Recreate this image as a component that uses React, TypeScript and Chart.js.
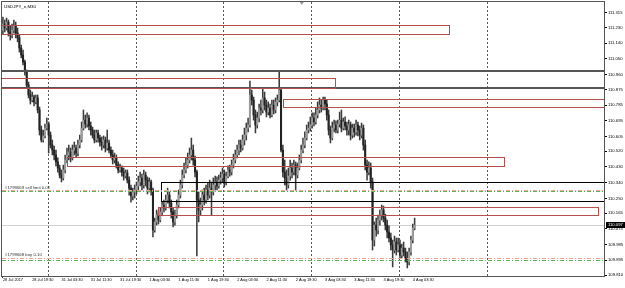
import React, { useEffect, useRef } from 'react';
import { Chart, registerables } from 'chart.js';

Chart.register(...registerables);

// ---- candle data (USDJPY_e, M30), one entry per bar ----
const opens = [
  111.215, 111.250, 111.227, 111.261, 111.204, 111.187, 111.215, 111.238, 111.198, 111.170,
  111.112, 111.072, 111.032, 110.975, 110.900, 110.843, 110.814, 110.831, 110.803, 110.826,
  110.757, 110.642, 110.585, 110.608, 110.653, 110.676, 110.613, 110.556, 110.527, 110.499,
  110.459, 110.424, 110.384, 110.367, 110.413, 110.470, 110.499, 110.516, 110.482, 110.527,
  110.539, 110.510, 110.556, 110.585, 110.653, 110.699, 110.676, 110.711, 110.665, 110.642,
  110.613, 110.585, 110.625, 110.596, 110.573, 110.556, 110.585, 110.539, 110.568, 110.527,
  110.499, 110.470, 110.482, 110.441, 110.413, 110.424, 110.401, 110.378, 110.396, 110.355,
  110.309, 110.264, 110.287, 110.298, 110.321, 110.344, 110.367, 110.327, 110.384, 110.355,
  110.309, 110.344, 110.298, 110.069, 110.115, 110.155, 110.126, 110.172, 110.212, 110.195,
  110.241, 110.269, 110.223, 110.172, 110.115, 110.155, 110.212, 110.269, 110.327, 110.384,
  110.413, 110.441, 110.470, 110.499, 110.527, 110.470, 110.401, 110.241, 110.183, 110.212,
  110.269, 110.241, 110.298, 110.269, 110.309, 110.287, 110.327, 110.344, 110.321, 110.355,
  110.367, 110.390, 110.344, 110.378, 110.413, 110.401, 110.441, 110.470, 110.499, 110.527,
  110.556, 110.539, 110.585, 110.613, 110.653, 110.671, 110.843, 110.814, 110.728, 110.671,
  110.711, 110.768, 110.757, 110.826, 110.785, 110.745, 110.768, 110.728, 110.785, 110.757,
  110.803, 110.814, 110.871, 110.527, 110.401, 110.367, 110.327, 110.378, 110.424, 110.401,
  110.441, 110.384, 110.424, 110.470, 110.527, 110.556, 110.596, 110.642, 110.653, 110.671,
  110.711, 110.688, 110.728, 110.757, 110.785, 110.768, 110.814, 110.791, 110.728, 110.642,
  110.596, 110.653, 110.671, 110.642, 110.676, 110.699, 110.653, 110.688, 110.665, 110.642,
  110.671, 110.613, 110.653, 110.631, 110.671, 110.642, 110.613, 110.653, 110.556, 110.441,
  110.401, 110.424, 110.344, 110.011, 110.097, 110.069, 110.126, 110.155, 110.183, 110.137,
  110.097, 110.057, 110.023, 109.983, 109.954, 110.000, 109.954, 109.983, 109.925, 109.965,
  109.943, 109.908, 109.885, 109.943, 110.011, 110.080,
];

const highs = [
  111.290, 111.273, 111.284, 111.273, 111.238, 111.250, 111.273, 111.261, 111.227, 111.187,
  111.129, 111.101, 111.043, 110.986, 110.917, 110.871, 110.860, 110.843, 110.843, 110.843,
  110.774, 110.665, 110.642, 110.676, 110.711, 110.688, 110.631, 110.585, 110.550, 110.527,
  110.482, 110.441, 110.413, 110.441, 110.499, 110.539, 110.556, 110.539, 110.556, 110.573,
  110.556, 110.585, 110.613, 110.688, 110.757, 110.728, 110.740, 110.728, 110.688, 110.659,
  110.642, 110.642, 110.642, 110.613, 110.602, 110.608, 110.602, 110.642, 110.585, 110.545,
  110.527, 110.510, 110.499, 110.459, 110.447, 110.436, 110.424, 110.413, 110.413, 110.373,
  110.327, 110.309, 110.327, 110.344, 110.378, 110.401, 110.390, 110.413, 110.401, 110.373,
  110.367, 110.355, 110.309, 110.137, 110.183, 110.172, 110.195, 110.229, 110.241, 110.269,
  110.309, 110.287, 110.241, 110.195, 110.183, 110.241, 110.298, 110.355, 110.413, 110.453,
  110.482, 110.510, 110.539, 110.596, 110.556, 110.493, 110.413, 110.287, 110.252, 110.298,
  110.309, 110.327, 110.338, 110.355, 110.344, 110.367, 110.378, 110.373, 110.384, 110.401,
  110.424, 110.413, 110.401, 110.436, 110.441, 110.470, 110.504, 110.527, 110.556, 110.585,
  110.585, 110.613, 110.653, 110.682, 110.711, 110.923, 110.871, 110.831, 110.757, 110.745,
  110.791, 110.814, 110.883, 110.860, 110.814, 110.803, 110.791, 110.814, 110.814, 110.826,
  110.843, 110.980, 110.883, 110.556, 110.470, 110.413, 110.424, 110.470, 110.453, 110.470,
  110.459, 110.453, 110.499, 110.556, 110.596, 110.631, 110.671, 110.688, 110.717, 110.740,
  110.740, 110.768, 110.803, 110.826, 110.814, 110.831, 110.831, 110.814, 110.757, 110.665,
  110.688, 110.699, 110.694, 110.699, 110.745, 110.757, 110.711, 110.717, 110.688, 110.699,
  110.688, 110.676, 110.676, 110.699, 110.688, 110.665, 110.682, 110.671, 110.585, 110.470,
  110.459, 110.453, 110.367, 110.115, 110.137, 110.155, 110.183, 110.212, 110.206, 110.160,
  110.126, 110.092, 110.051, 110.011, 110.034, 110.023, 110.023, 110.011, 109.988, 110.000,
  109.965, 109.943, 109.965, 110.034, 110.103, 110.137,
];

const lows = [
  111.192, 111.204, 111.215, 111.181, 111.158, 111.170, 111.198, 111.170, 111.147, 111.089,
  111.055, 111.015, 110.957, 110.883, 110.826, 110.791, 110.803, 110.780, 110.791, 110.740,
  110.613, 110.573, 110.573, 110.596, 110.642, 110.510, 110.539, 110.499, 110.470, 110.436,
  110.401, 110.367, 110.344, 110.355, 110.396, 110.453, 110.470, 110.459, 110.470, 110.499,
  110.487, 110.493, 110.539, 110.573, 110.642, 110.653, 110.659, 110.642, 110.613, 110.596,
  110.568, 110.573, 110.573, 110.550, 110.527, 110.539, 110.516, 110.527, 110.510, 110.482,
  110.447, 110.453, 110.424, 110.396, 110.401, 110.378, 110.355, 110.367, 110.338, 110.269,
  110.229, 110.241, 110.252, 110.275, 110.298, 110.321, 110.298, 110.309, 110.321, 110.275,
  110.287, 110.269, 110.029, 110.057, 110.097, 110.103, 110.115, 110.155, 110.172, 110.183,
  110.223, 110.195, 110.137, 110.086, 110.097, 110.137, 110.195, 110.252, 110.309, 110.367,
  110.396, 110.424, 110.453, 110.470, 110.441, 110.373, 109.920, 110.115, 110.155, 110.183,
  110.212, 110.223, 110.241, 110.252, 110.155, 110.269, 110.298, 110.298, 110.309, 110.332,
  110.344, 110.315, 110.327, 110.367, 110.378, 110.384, 110.424, 110.453, 110.482, 110.499,
  110.516, 110.527, 110.556, 110.585, 110.631, 110.659, 110.785, 110.699, 110.625, 110.653,
  110.688, 110.728, 110.740, 110.757, 110.717, 110.728, 110.711, 110.717, 110.734, 110.740,
  110.780, 110.803, 110.516, 110.373, 110.327, 110.298, 110.309, 110.355, 110.367, 110.384,
  110.298, 110.367, 110.413, 110.453, 110.510, 110.539, 110.585, 110.625, 110.636, 110.653,
  110.665, 110.676, 110.711, 110.740, 110.745, 110.757, 110.757, 110.699, 110.613, 110.568,
  110.585, 110.631, 110.625, 110.625, 110.659, 110.631, 110.642, 110.642, 110.613, 110.613,
  110.585, 110.596, 110.602, 110.613, 110.608, 110.585, 110.596, 110.527, 110.413, 110.355,
  110.384, 110.309, 109.954, 109.977, 110.034, 110.046, 110.097, 110.126, 110.115, 110.069,
  110.023, 110.000, 109.954, 109.857, 109.937, 109.925, 109.943, 109.908, 109.908, 109.920,
  109.885, 109.851, 109.868, 109.925, 109.994, 110.069,
];

const closes = [
  111.250, 111.227, 111.261, 111.204, 111.187, 111.215, 111.238, 111.198, 111.170, 111.112,
  111.072, 111.032, 110.975, 110.900, 110.843, 110.814, 110.831, 110.803, 110.826, 110.757,
  110.642, 110.585, 110.608, 110.653, 110.676, 110.613, 110.556, 110.527, 110.499, 110.459,
  110.424, 110.384, 110.367, 110.413, 110.470, 110.499, 110.516, 110.482, 110.527, 110.539,
  110.510, 110.556, 110.585, 110.653, 110.699, 110.676, 110.711, 110.665, 110.642, 110.613,
  110.585, 110.625, 110.596, 110.573, 110.556, 110.585, 110.539, 110.568, 110.527, 110.499,
  110.470, 110.482, 110.441, 110.413, 110.424, 110.401, 110.378, 110.396, 110.355, 110.309,
  110.264, 110.287, 110.298, 110.321, 110.344, 110.367, 110.327, 110.384, 110.355, 110.309,
  110.344, 110.298, 110.069, 110.115, 110.155, 110.126, 110.172, 110.212, 110.195, 110.241,
  110.269, 110.223, 110.172, 110.115, 110.155, 110.212, 110.269, 110.327, 110.384, 110.413,
  110.441, 110.470, 110.499, 110.527, 110.470, 110.401, 110.241, 110.183, 110.212, 110.269,
  110.241, 110.298, 110.269, 110.309, 110.287, 110.327, 110.344, 110.321, 110.355, 110.367,
  110.390, 110.344, 110.378, 110.413, 110.401, 110.441, 110.470, 110.499, 110.527, 110.556,
  110.539, 110.585, 110.613, 110.653, 110.671, 110.843, 110.814, 110.728, 110.671, 110.711,
  110.768, 110.757, 110.826, 110.785, 110.745, 110.768, 110.728, 110.785, 110.757, 110.803,
  110.814, 110.871, 110.527, 110.401, 110.367, 110.327, 110.378, 110.424, 110.401, 110.441,
  110.384, 110.424, 110.470, 110.527, 110.556, 110.596, 110.642, 110.653, 110.671, 110.711,
  110.688, 110.728, 110.757, 110.785, 110.768, 110.814, 110.791, 110.728, 110.642, 110.596,
  110.653, 110.671, 110.642, 110.676, 110.699, 110.653, 110.688, 110.665, 110.642, 110.671,
  110.613, 110.653, 110.631, 110.671, 110.642, 110.613, 110.653, 110.556, 110.441, 110.401,
  110.424, 110.344, 110.011, 110.097, 110.069, 110.126, 110.155, 110.183, 110.137, 110.097,
  110.057, 110.023, 109.983, 109.954, 110.000, 109.954, 109.983, 109.925, 109.965, 109.943,
  109.908, 109.885, 109.943, 110.011, 110.080, 110.097,
];

// ---- axes ----
const slotCount = 329; // bars visible in the window incl. empty right shift
const timeLabels = [
  '28 Jul 2017', '28 Jul 19:30', '31 Jul 03:30', '31 Jul 11:30', '31 Jul 19:30',
  '1 Aug 03:30', '1 Aug 11:30', '1 Aug 19:30', '2 Aug 03:30', '2 Aug 11:30',
  '2 Aug 19:30', '3 Aug 03:30', '3 Aug 11:30', '3 Aug 19:30', '4 Aug 03:30',
];
const barsPerTimeLabel = 16;
const daySeparators = [25, 73, 121, 169, 217, 265];
const priceTicks = [
  111.315, 111.230, 111.140, 111.050, 110.960, 110.875, 110.785, 110.695, 110.605,
  110.520, 110.430, 110.340, 110.250, 110.165, 110.075, 109.985, 109.895, 109.810,
];
const priceMin = 109.805;
const priceMax = 111.376;

// ---- chart objects ----
const redBoxes = [
  { from: -10, to: 243.8, top: 111.242, bottom: 111.192 },
  { from: -10, to: 181.5, top: 110.9405, bottom: 110.885 },
  { from: 153.1, to: 400, top: 110.820, bottom: 110.772 },
  { from: 35.0, to: 273.8, top: 110.487, bottom: 110.434 },
  { from: 84.8, to: 325.1, top: 110.201, bottom: 110.155 },
];
const blackBoxes = [{ from: 86.4, to: 400, top: 110.344, bottom: 110.237 }];
const grayLevels = [110.982, 110.883];
const tpLevels = [110.296, 109.910];
const orderLevels = [110.290, 109.897];
const orderTexts = ['#1799669 sell limit 0.01', '#1799668 buy 0.10'];
const symbolTitle = 'USDJPY_e,M30';

const FONT = '"Liberation Sans", Arial, sans-serif';
const RED = '#b5504e';
const BULL = '#9c9c9c';
const BEAR = '#222222';
const WICK = '#3c3c3c';

const overlay = {
  id: 'mt4overlay',
  beforeDatasetsDraw(chart: any) {
    const { ctx, chartArea: a, scales } = chart;
    const x = scales.x, y = scales.y;
    ctx.save();
    ctx.lineWidth = 1;
    ctx.strokeStyle = '#5a5a5a';
    ctx.setLineDash([2, 2]);
    for (const s of daySeparators) {
      const px = Math.round(x.getPixelForValue(s - 0.5)) + 0.5;
      ctx.beginPath();
      ctx.moveTo(px, a.top);
      ctx.lineTo(px, a.bottom);
      ctx.stroke();
    }
    ctx.setLineDash([]);
    const by = Math.round(y.getPixelForValue(closes[closes.length - 1])) + 0.5;
    ctx.strokeStyle = '#d2d2d2';
    ctx.beginPath();
    ctx.moveTo(a.left, by);
    ctx.lineTo(a.right, by);
    ctx.stroke();
    ctx.restore();
  },
  afterDatasetsDraw(chart: any) {
    const { ctx, chartArea: a, scales } = chart;
    const x = scales.x, y = scales.y;
    ctx.save();
    ctx.beginPath();
    ctx.rect(a.left, a.top, a.right - a.left, a.bottom - a.top);
    ctx.clip();

    // thick gray horizontal lines
    ctx.strokeStyle = '#555';
    ctx.lineWidth = 2;
    for (const g of grayLevels) {
      const py = Math.round(y.getPixelForValue(g));
      ctx.beginPath();
      ctx.moveTo(a.left, py);
      ctx.lineTo(a.right, py);
      ctx.stroke();
    }

    const box = (b: any, color: string) => {
      const x1 = Math.round(x.getPixelForValue(b.from)) + 0.5;
      const x2 = Math.round(x.getPixelForValue(b.to)) + 0.5;
      const y1 = Math.round(y.getPixelForValue(b.top)) + 0.5;
      const y2 = Math.round(y.getPixelForValue(b.bottom)) + 0.5;
      ctx.strokeStyle = color;
      ctx.lineWidth = 1;
      ctx.strokeRect(x1, y1, x2 - x1, y2 - y1);
    };
    redBoxes.forEach((b) => box(b, RED));
    blackBoxes.forEach((b) => box(b, '#000'));

    // order lines (dash-dot)
    ctx.lineWidth = 1;
    ctx.setLineDash([4, 2, 1, 2]);
    ctx.strokeStyle = '#f4a488';
    for (const t of tpLevels) {
      const py = Math.round(y.getPixelForValue(t)) + 0.5;
      ctx.beginPath();
      ctx.moveTo(a.left, py);
      ctx.lineTo(a.right, py);
      ctx.stroke();
    }
    ctx.strokeStyle = '#5cb25c';
    for (const o of orderLevels) {
      const py = Math.round(y.getPixelForValue(o)) + 0.5;
      ctx.beginPath();
      ctx.moveTo(a.left, py);
      ctx.lineTo(a.right, py);
      ctx.stroke();
    }
    ctx.setLineDash([]);

    // labels
    ctx.fillStyle = '#333';
    ctx.font = `4.3px ${FONT}`;
    ctx.textAlign = 'left';
    ctx.textBaseline = 'bottom';
    orderLevels.forEach((o, i) => {
      const py = Math.min(y.getPixelForValue(tpLevels[i]), y.getPixelForValue(o));
      ctx.fillText(orderTexts[i], a.left + 3, py - 0.5);
    });
    ctx.fillStyle = '#000';
    ctx.font = `4.4px ${FONT}`;
    ctx.textBaseline = 'middle';
    ctx.fillText(symbolTitle, a.left + 2, a.top + 4.5);
    ctx.restore();
  },
  afterDraw(chart: any) {
    const { ctx, chartArea: a, scales } = chart;
    const y = scales.y;
    ctx.save();
    ctx.strokeStyle = '#555';
    ctx.lineWidth = 1;
    ctx.strokeRect(Math.round(a.left) - 0.5, Math.round(a.top) - 0.5,
      Math.round(a.right - a.left) + 1, Math.round(a.bottom - a.top) + 1);
    // shift marker
    const sx = a.left + (a.right - a.left) * 0.498;
    ctx.fillStyle = '#999';
    ctx.beginPath();
    ctx.moveTo(sx - 2, a.top);
    ctx.lineTo(sx + 2, a.top);
    ctx.lineTo(sx, a.top + 3);
    ctx.closePath();
    ctx.fill();
    // current price box
    const last = closes[closes.length - 1];
    const py = y.getPixelForValue(last);
    ctx.fillStyle = '#000';
    ctx.fillRect(a.right + 2, Math.round(py) - 3, 21, 6);
    ctx.fillStyle = '#fff';
    ctx.font = `4.2px ${FONT}`;
    ctx.textAlign = 'left';
    ctx.textBaseline = 'middle';
    ctx.fillText(last.toFixed(3), a.right + 4, Math.round(py));
    ctx.restore();
  },
};

export default function App() {
  const ref = useRef<HTMLCanvasElement>(null);
  useEffect(() => {
    document.body.style.margin = '0';
    const canvas = ref.current!;
    const slots = Array.from({ length: slotCount }, (_, i) => String(i));
    const wickData = closes.map((_, i) => [lows[i], highs[i]]);
    const bodyData = closes.map((c, i) => [opens[i], c]);
    const bodyColors = closes.map((c, i) => (c >= opens[i] ? BULL : BEAR));
    const isLabelTick = (i: number) =>
      i % barsPerTimeLabel === 0 && i / barsPerTimeLabel < timeLabels.length;

    const chart = new Chart(canvas, {
      type: 'bar',
      data: {
        labels: slots,
        datasets: [
          { data: wickData as any, backgroundColor: WICK, barThickness: 0.9, grouped: false, order: 2 } as any,
          { data: bodyData as any, backgroundColor: bodyColors, barThickness: 1.4, grouped: false, order: 1 } as any,
        ],
      },
      options: {
        animation: false,
        responsive: false,
        devicePixelRatio: 1,
        layout: { padding: { left: 2, top: 2, right: 0, bottom: 0 } },
        plugins: { legend: { display: false }, tooltip: { enabled: false } },
        scales: {
          x: {
            type: 'category',
            offset: true,
            grid: {
              display: true,
              drawOnChartArea: false,
              offset: false,
              tickLength: 2,
              color: (c: any) => (isLabelTick(c.index) ? '#333' : 'rgba(0,0,0,0)'),
            },
            border: { display: false },
            ticks: {
              autoSkip: false,
              maxRotation: 0,
              minRotation: 0,
              align: 'start',
              padding: 0,
              color: '#000',
              font: { family: FONT, size: 3.9 },
              callback: (_v: any, i: number) =>
                isLabelTick(i) ? timeLabels[i / barsPerTimeLabel] : null,
            },
            afterFit: (s: any) => {
              s.height = 12;
              s.paddingLeft = 0;
              s.paddingRight = 0;
            },
          } as any,
          y: {
            position: 'right',
            min: priceMin,
            max: priceMax,
            grid: { drawOnChartArea: false, tickLength: 3, color: '#000' },
            border: { display: false },
            ticks: {
              padding: 1,
              color: '#000',
              font: { family: FONT, size: 4.2 },
              callback: (v: any) => Number(v).toFixed(3),
            },
            afterBuildTicks: (axis: any) => {
              axis.ticks = priceTicks.map((v) => ({ value: v }));
            },
            afterFit: (s: any) => {
              s.width = 21;
              s.paddingTop = 0;
              s.paddingBottom = 0;
            },
          } as any,
        },
      },
      plugins: [overlay],
    });
    return () => chart.destroy();
  }, []);
  return (
    <div style={{ width: 625, height: 288, background: '#fff' }}>
      <canvas ref={ref} width={625} height={288} style={{ display: 'block' }} />
    </div>
  );
}
